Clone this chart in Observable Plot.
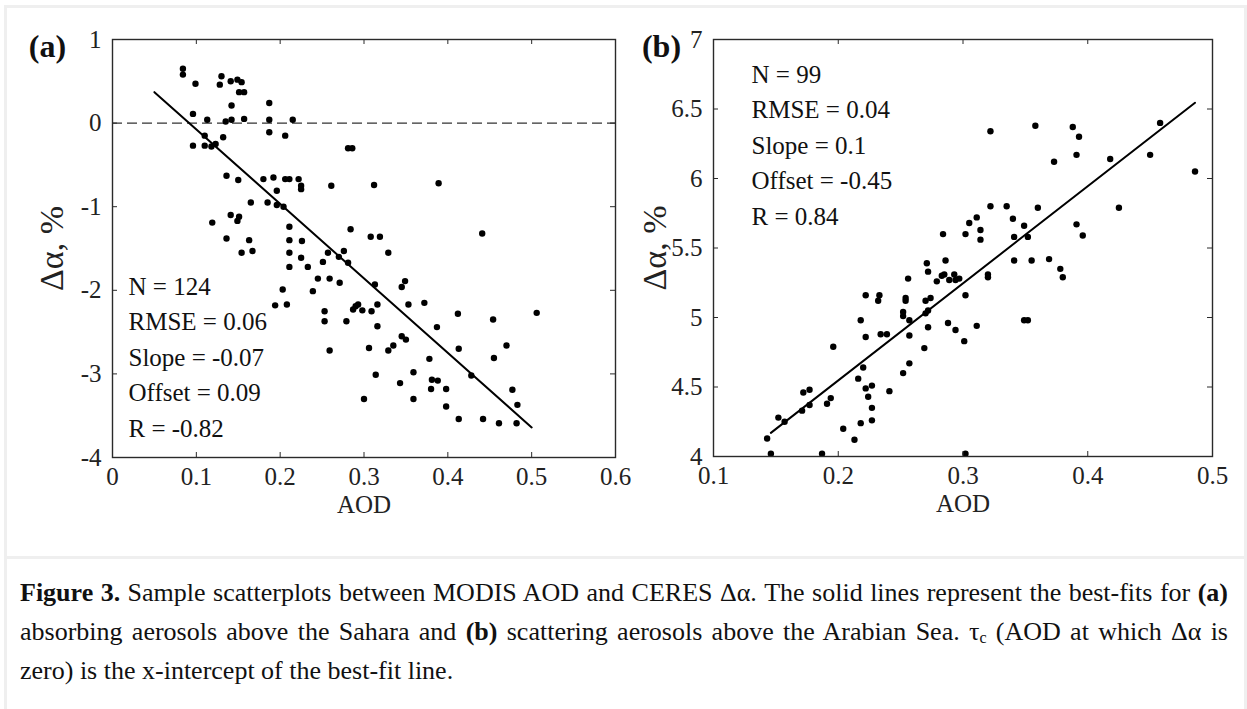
<!DOCTYPE html>
<html>
<head>
<meta charset="utf-8">
<script src="https://cdn.jsdelivr.net/npm/d3@7"></script>
<script src="https://cdn.jsdelivr.net/npm/@observablehq/plot@0.6"></script>
<style>
html,body{margin:0;padding:0;background:#fff;}
body{width:1247px;height:709px;position:relative;overflow:hidden;font-family:"Liberation Serif","Times New Roman",serif;color:#111;}
#box{position:absolute;left:4px;top:5px;width:1243px;height:760px;border:3px solid #efefef;box-sizing:border-box;}
#sep{position:absolute;left:4px;top:556px;width:1243px;height:3px;background:#efefef;}
#pa{position:absolute;left:0;top:0;}
#pb{position:absolute;left:640px;top:0;}
#cap{position:absolute;left:20px;top:573px;width:1208px;font-size:26px;line-height:39px;}
#cap .j{text-align:justify;text-align-last:justify;}
#cap sub{font-size:16px;line-height:0;vertical-align:-3px;}
</style>
</head>
<body>
<div id="box"></div>
<div id="sep"></div>
<div id="pa"></div>
<div id="pb"></div>
<div id="cap">
<div class="j"><b>Figure 3.</b> Sample scatterplots between MODIS AOD and CERES Δα. The solid lines represent the best-fits for <b>(a)</b></div>
<div class="j">absorbing aerosols above the Sahara and <b>(b)</b> scattering aerosols above the Arabian Sea. τ<sub>c</sub> (AOD at which Δα is</div>
<div>zero) is the x-intercept of the best-fit line.</div>
</div>
<script>
// ---------- Panel (a): Sahara ----------
const aodA = [0.084,0.084,0.099,0.130,0.128,0.141,0.149,0.154,0.151,0.157,0.142,0.187,0.096,0.113,0.135,0.142,0.157,0.187,0.215,0.187,0.206,0.110,0.132,0.096,0.110,0.118,0.123,0.281,0.286,0.136,0.150,0.180,0.192,0.206,0.211,0.222,0.225,0.225,0.196,0.261,0.312,0.389,0.165,0.185,0.196,0.204,0.141,0.151,0.149,0.119,0.211,0.284,0.136,0.163,0.154,0.167,0.211,0.211,0.211,0.226,0.225,0.233,0.203,0.194,0.208,0.239,0.245,0.251,0.257,0.259,0.253,0.253,0.259,0.270,0.276,0.281,0.271,0.279,0.287,0.290,0.293,0.298,0.308,0.319,0.329,0.313,0.316,0.309,0.316,0.306,0.314,0.300,0.329,0.335,0.343,0.345,0.350,0.345,0.349,0.353,0.359,0.359,0.372,0.378,0.387,0.381,0.380,0.388,0.398,0.398,0.412,0.413,0.413,0.428,0.442,0.454,0.455,0.461,0.470,0.477,0.483,0.482,0.441,0.506];
const dAlphaA = [0.65,0.58,0.47,0.56,0.46,0.50,0.52,0.49,0.37,0.37,0.21,0.24,0.11,0.04,0.02,0.04,0.05,0.04,0.04,-0.11,-0.15,-0.15,-0.17,-0.27,-0.27,-0.28,-0.25,-0.30,-0.30,-0.63,-0.68,-0.67,-0.65,-0.67,-0.67,-0.67,-0.75,-0.79,-0.81,-0.75,-0.74,-0.72,-0.95,-0.95,-0.98,-1.00,-1.10,-1.12,-1.17,-1.19,-1.24,-1.27,-1.38,-1.40,-1.55,-1.53,-1.40,-1.55,-1.72,-1.41,-1.61,-1.72,-1.99,-2.18,-2.17,-2.01,-1.86,-1.66,-1.55,-1.86,-2.25,-2.37,-2.72,-1.60,-1.53,-1.67,-1.91,-2.37,-2.23,-2.19,-2.17,-2.24,-1.36,-1.36,-1.55,-1.93,-2.17,-2.25,-2.43,-2.69,-3.01,-3.30,-2.72,-2.66,-3.11,-2.55,-2.59,-1.96,-1.89,-2.17,-2.98,-3.30,-2.15,-2.82,-2.44,-3.07,-3.18,-3.08,-3.18,-3.39,-2.28,-2.70,-3.54,-3.02,-3.54,-2.35,-2.81,-3.59,-2.66,-3.19,-3.37,-3.59,-1.32,-2.27];
const fitAodA = [0.05, 0.50];
const fitDAlphaA = [0.37, -3.64];
const xTicksA = [0, 0.1, 0.2, 0.3, 0.4, 0.5, 0.6];
const yTicksA = [-4, -3, -2, -1, 0, 1];
const statsA = ["N = 124", "RMSE = 0.06", "Slope = -0.07", "Offset = 0.09", "R = -0.82"];

// ---------- Panel (b): Arabian Sea ----------
const aodB = [0.322,0.358,0.388,0.393,0.391,0.373,0.418,0.450,0.458,0.486,0.425,0.322,0.335,0.360,0.311,0.340,0.305,0.314,0.349,0.391,0.284,0.302,0.396,0.314,0.341,0.352,0.341,0.355,0.369,0.378,0.380,0.271,0.272,0.286,0.256,0.279,0.283,0.285,0.289,0.293,0.294,0.297,0.320,0.320,0.222,0.233,0.232,0.254,0.254,0.270,0.274,0.302,0.252,0.252,0.272,0.270,0.257,0.218,0.288,0.294,0.311,0.349,0.352,0.272,0.222,0.234,0.239,0.257,0.301,0.196,0.269,0.220,0.257,0.252,0.216,0.222,0.227,0.224,0.241,0.227,0.227,0.218,0.204,0.213,0.172,0.177,0.171,0.177,0.191,0.194,0.152,0.157,0.143,0.146,0.187,0.302];
const dAlphaB = [6.34,6.38,6.37,6.30,6.17,6.12,6.14,6.17,6.40,6.05,5.79,5.80,5.80,5.79,5.72,5.71,5.68,5.63,5.66,5.67,5.60,5.60,5.59,5.56,5.58,5.58,5.41,5.41,5.42,5.35,5.29,5.39,5.33,5.41,5.28,5.26,5.30,5.31,5.27,5.31,5.27,5.28,5.31,5.29,5.16,5.16,5.12,5.14,5.12,5.12,5.14,5.16,5.04,5.01,5.05,5.03,4.98,4.98,4.96,4.91,4.94,4.98,4.98,4.93,4.86,4.88,4.88,4.87,4.83,4.79,4.78,4.64,4.67,4.60,4.56,4.49,4.51,4.43,4.47,4.35,4.26,4.24,4.20,4.12,4.46,4.48,4.33,4.37,4.38,4.42,4.28,4.25,4.13,4.02,4.02,4.02];
const fitAodB = [0.146, 0.486];
const fitDAlphaB = [4.17, 6.545];
const xTicksB = [0.1, 0.2, 0.3, 0.4, 0.5];
const yTicksB = [4, 4.5, 5, 5.5, 6, 6.5, 7];
const statsB = ["N = 99", "RMSE = 0.04", "Slope = 0.1", "Offset = -0.45", "R = 0.84"];

const yLabel = "Δα, %";
const xLabel = "AOD";

function panel(o) {
  const pts = o.aod.map((a, i) => ({aod: a, da: o.da[i]}));
  const fit = o.fitX.map((a, i) => ({aod: a, da: o.fitY[i]}));
  const fw = o.width - o.ml - o.mr;
  const fh = o.height - o.mt - o.mb;
  const fmt = d => String(d);
  const ink = "#2a2a2a";
  const marks = [];
  if (o.zero) marks.push(Plot.ruleY(o.zero, {stroke: "#333", strokeWidth: 1.2, strokeDasharray: "10,5"}));
  marks.push(
    Plot.line(fit, {x: "aod", y: "da", stroke: "#000", strokeWidth: 2}),
    Plot.dot(pts, {x: "aod", y: "da", r: 3.2, fill: "#000", stroke: "none"}),
    Plot.tickX(o.xTicks, {x: d => d, insetTop: fh - 5, stroke: ink, strokeWidth: 1}),
    Plot.tickX(o.xTicks, {x: d => d, insetBottom: fh - 5, stroke: ink, strokeWidth: 1}),
    Plot.tickY(o.yTicks, {y: d => d, insetRight: fw - 5, stroke: ink, strokeWidth: 1}),
    Plot.tickY(o.yTicks, {y: d => d, insetLeft: fw - 5, stroke: ink, strokeWidth: 1}),
    Plot.frame({stroke: ink, strokeWidth: 1.4}),
    Plot.axisX(o.xTicks, {tickSize: 0, tickPadding: 10, fontSize: 25, tickFormat: fmt, label: null, color: "#222"}),
    Plot.axisY(o.yTicks, {tickSize: 0, tickPadding: 11, fontSize: 25, tickFormat: fmt, label: null, color: "#222"}),
    Plot.text([yLabel], {frameAnchor: "left", rotate: -90, dx: o.labDx, lineAnchor: "bottom", textAnchor: "middle", fontSize: 34, fill: "#222"}),
    Plot.text([xLabel], {frameAnchor: "bottom", dy: 47, lineAnchor: "middle", textAnchor: "middle", fontSize: 25, fill: "#222"}),
    Plot.text([o.tag], {frameAnchor: "top-left", dx: o.tagDx, dy: 7, lineAnchor: "middle", textAnchor: "middle", fontSize: 32, fontWeight: "bold", fill: "#111"}),
    Plot.text([o.stats.join("\n")], {frameAnchor: "top-left", dx: o.statDx, dy: o.statDy, lineAnchor: "top", textAnchor: "start", fontSize: 25, lineHeight: 1.42, fill: "#111"})
  );
  return Plot.plot({
    width: o.width, height: o.height,
    marginLeft: o.ml, marginRight: o.mr, marginTop: o.mt, marginBottom: o.mb,
    style: {fontFamily: "'Liberation Serif','Times New Roman',serif", background: "transparent", overflow: "visible"},
    x: {domain: o.xDomain},
    y: {domain: o.yDomain},
    marks
  });
}

document.getElementById("pa").append(panel({
  aod: aodA, da: dAlphaA, fitX: fitAodA, fitY: fitDAlphaA,
  xTicks: xTicksA, yTicks: yTicksA, stats: statsA, zero: [0],
  xDomain: [0, 0.6], yDomain: [-4, 1],
  width: 640, height: 520, ml: 112, mr: 25, mt: 39, mb: 63,
  tag: "(a)", tagDx: -65, statDx: 16, statDy: 230, labDx: -50
}));
document.getElementById("pb").append(panel({
  aod: aodB, da: dAlphaB, fitX: fitAodB, fitY: fitDAlphaB,
  xTicks: xTicksB, yTicks: yTicksB, stats: statsB, zero: null,
  xDomain: [0.1, 0.5], yDomain: [4, 7],
  width: 600, height: 520, ml: 73, mr: 28, mt: 39, mb: 64,
  tag: "(b)", tagDx: -52, statDx: 38, statDy: 18, labDx: -48
}));
</script>
</body>
</html>
